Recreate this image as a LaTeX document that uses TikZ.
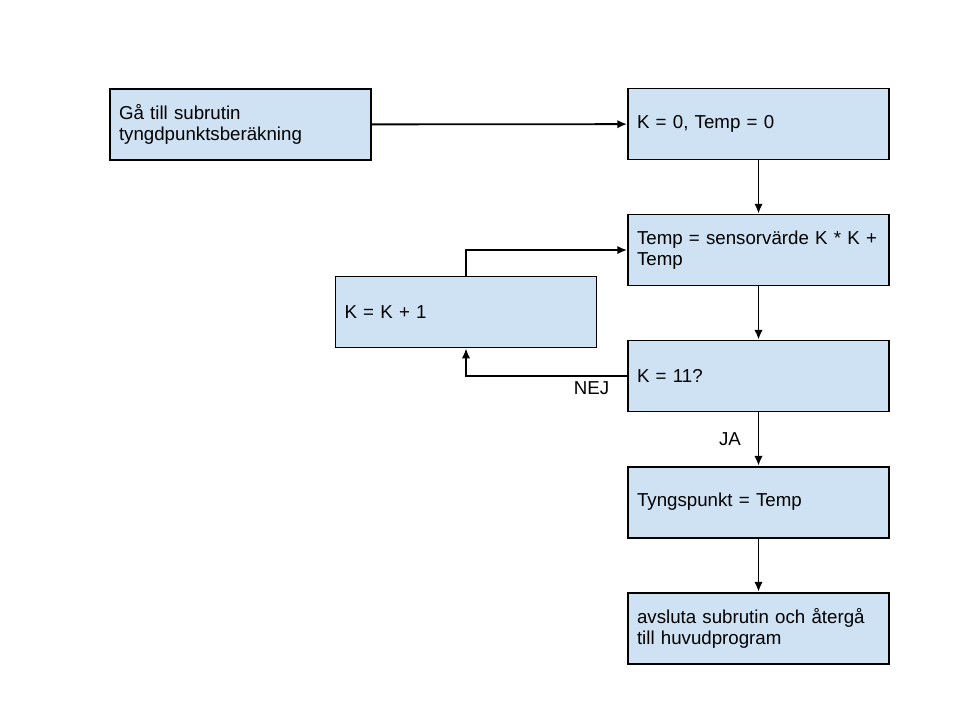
\documentclass[tikz,border=0pt]{standalone}
\usepackage{fontspec}
\setmainfont{Liberation Sans}
\usepackage{xcolor}
\usetikzlibrary{positioning,arrows.meta}
\definecolor{boxblue}{HTML}{CFE2F3}

\begin{document}
\begin{tikzpicture}[node distance=1.33cm, >={Latex[length=7pt,width=6pt]}, line width=1.3pt, every node/.style={font=\fontsize{13.3}{15}\selectfont},
  box/.style={draw, fill=boxblue, align=left, text width=6.075cm, inner xsep=0.225cm, minimum height=1.775cm}]
\useasboundingbox (0,0) rectangle (24,-18);
\node[box] (sub) at (6.0125,-3.1125) {Gå till subrutin\\tyngdpunktsberäkning};
\node[box] (init) at (18.9625,-3.1) {K = 0, Temp = 0};
\node[box, below=of init] (sum) {Temp = sensorvärde K * K +\\Temp};
\node[box] (inc) at (11.65,-7.8) {K = K + 1};
\node[box, below=of sum] (test) {K = 11?};
\node[box, below=of test] (res) {Tyngspunkt = Temp};
\node[box, below=of res] (ret) {avsluta subrutin och återgå\\till huvudprogram};
\draw[->] (sub) -- (init);
\draw[->] (init) -- (sum);
\draw[->] (sum) -- (test);
\draw[->] (test) -- node[left=3mm] {JA} (res);
\draw[->] (res) -- (ret);
\draw[->] (test.west) -| node[pos=0.11, below] {NEJ} (inc.south);
\draw[->] (inc.north) |- (sum.west);
\end{tikzpicture}
\end{document}
